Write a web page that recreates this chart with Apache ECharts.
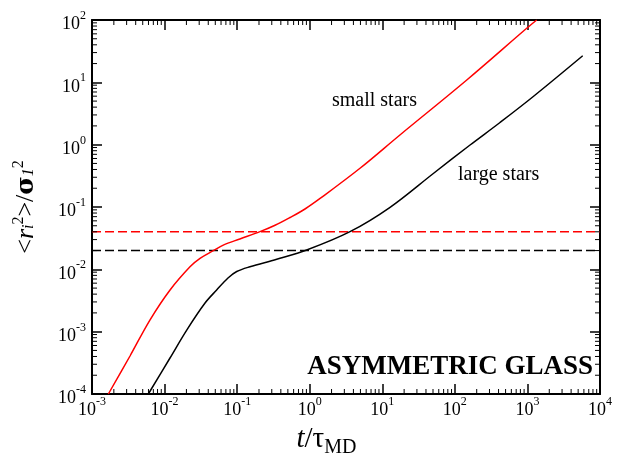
<!DOCTYPE html>
<html>
<head>
<meta charset="utf-8">
<script src="https://cdn.jsdelivr.net/npm/echarts@6/dist/echarts.min.js"></script>
<style>
  html, body { margin: 0; padding: 0; background: #fff; }
  #chart { width: 625px; height: 455px; }
</style>
</head>
<body>
<div id="chart"></div>
<script>
// Mean-square displacement of small and large stars versus time, log-log.
const smallStarsT   = [0.00168, 0.00334, 0.00631, 0.0119, 0.0224, 0.0308, 0.0469, 0.0644, 0.109, 0.2065, 0.333, 0.535, 0.861, 1.39, 4.93, 17.5, 146, 977, 1343];
const smallStarsMSD = [1.0e-4, 4.07e-4, 1.55e-3, 4.67e-3, 0.0110, 0.0150, 0.0199, 0.0245, 0.0307, 0.0402, 0.0509, 0.0678, 0.0929, 0.137, 0.418, 1.43, 10.9, 73.6, 100];
const largeStarsT   = [0.00597, 0.01188, 0.0202, 0.0361, 0.0522, 0.0748, 0.0987, 0.150, 0.351, 0.908, 3.59, 12.8, 50.5, 162, 419, 1205, 5780];
const largeStarsMSD = [1.0e-4, 3.78e-4, 1.06e-3, 2.88e-3, 4.66e-3, 7.26e-3, 9.23e-3, 0.0110, 0.0145, 0.0204, 0.0402, 0.0989, 0.345, 0.988, 2.27, 5.93, 26.7];
const plateauSmall = 0.04;
const plateauLarge = 0.02;
const xTickExponents = [-3, -2, -1, 0, 1, 2, 3, 4];
const yTickExponents = [-4, -3, -2, -1, 0, 1, 2];

const xMin = Math.pow(10, xTickExponents[0]);
const xMax = Math.pow(10, xTickExponents[xTickExponents.length - 1]);
const yMin = Math.pow(10, yTickExponents[0]);
const yMax = Math.pow(10, yTickExponents[yTickExponents.length - 1]);

const FONT = 'Liberation Serif, Times New Roman, serif';

function zip(a, b) { return a.map((v, i) => [v, b[i]]); }

// Intermediate (2..9 x 10^k) tick positions within each decade
function minorValues(exps) {
  const out = [];
  for (let i = 0; i < exps.length - 1; i++) {
    for (let m = 2; m <= 9; m++) out.push(m * Math.pow(10, exps[i]));
  }
  return out;
}
const xMinor = minorValues(xTickExponents);
const yMinor = minorValues(yTickExponents);

const powerLabel = {
  formatter: function (v) {
    const e = Math.round(Math.log10(v));
    return '{b|10}{s|' + e + '}';
  },
  rich: {
    b: { fontFamily: FONT, fontSize: 18, lineHeight: 18, padding: [9, 0, 0, 0], color: '#000' },
    s: { fontFamily: FONT, fontSize: 12, lineHeight: 20, verticalAlign: 'top', color: '#000' }
  }
};

const frameLine = { show: true, onZero: false, lineStyle: { color: '#000', width: 2 } };
const majorTick = { show: true, inside: true, length: 10, lineStyle: { color: '#000', width: 1.5 } };

function logAxis(min, max, extra) {
  return Object.assign({
    type: 'log', logBase: 10, min: min, max: max, interval: 1,
    axisLine: frameLine, axisTick: majorTick,
    splitLine: { show: false }, minorTick: { show: false }
  }, extra);
}

const MINOR_LEN = 5;

const chart = echarts.init(document.getElementById('chart'), null, { renderer: 'canvas' });
chart.setOption({
  backgroundColor: '#fff',
  animation: false,
  grid: { left: 92, right: 25, top: 20, bottom: 61, containLabel: false, outerBoundsMode: 'none' },
  xAxis: [
    logAxis(xMin, xMax, {
      position: 'bottom',
      axisLabel: Object.assign({ show: true, margin: 2 }, powerLabel),
      name: '{t|t}{n|/τ}{sub|MD}',
      nameLocation: 'middle',
      nameGap: 24,
      nameTextStyle: {
        padding: [0, 39, 0, 0],
        rich: {
          t: { fontFamily: FONT, fontStyle: 'italic', fontSize: 29, lineHeight: 28, padding: [0, 0, 10, 0], color: '#000' },
          n: { fontFamily: FONT, fontSize: 29, lineHeight: 28, padding: [0, 0, 10, 0], color: '#000' },
          sub: { fontFamily: FONT, fontSize: 20, lineHeight: 18, verticalAlign: 'bottom', color: '#000' }
        }
      }
    }),
    logAxis(xMin, xMax, { position: 'top', axisLabel: { show: false } })
  ],
  yAxis: [
    logAxis(yMin, yMax, {
      position: 'left',
      axisLabel: Object.assign({ show: true, margin: 6 }, powerLabel),
      name: '{m|<}{mi|r}{sub|i}{sup|2}{m|>/}{sg|σ}{sub|1}{sup|2}',
      nameLocation: 'middle',
      nameRotate: 90,
      nameGap: 37,
      nameTextStyle: {
        rich: {
          m: { fontFamily: FONT, fontSize: 26, lineHeight: 26, padding: [12, 0, 8, 0], color: '#000' },
          mi: { fontFamily: FONT, fontStyle: 'italic', fontSize: 26, lineHeight: 26, padding: [12, 0, 8, 0], color: '#000' },
          sg: { fontFamily: 'DejaVu Serif, serif', fontWeight: 'bold', fontSize: 25, lineHeight: 26, padding: [12, 0, 8, 0], color: '#000' },
          sub: { fontFamily: FONT, fontStyle: 'italic', fontSize: 16, lineHeight: 18, verticalAlign: 'bottom', color: '#000' },
          sup: { fontFamily: FONT, fontSize: 16, lineHeight: 24, verticalAlign: 'top', color: '#000' }
        }
      }
    }),
    logAxis(yMin, yMax, { position: 'right', axisLabel: { show: false } })
  ],
  graphic: [
    { type: 'text', x: 332, y: 101, silent: true,
      style: { text: 'small stars', font: '20px ' + FONT, fill: '#000', textAlign: 'left', textVerticalAlign: 'middle' } },
    { type: 'text', x: 458, y: 175, silent: true,
      style: { text: 'large stars', font: '20px ' + FONT, fill: '#000', textAlign: 'left', textVerticalAlign: 'middle' } },
    { type: 'text', x: 593, y: 367, silent: true,
      style: { text: 'ASYMMETRIC GLASS', font: 'bold 27px ' + FONT, fill: '#000', textAlign: 'right', textVerticalAlign: 'middle' } }
  ],
  series: [
    {
      name: 'minor x ticks', type: 'custom', silent: true, clip: false, z: 5,
      data: xMinor.map(v => [v, yMin]),
      renderItem: function (params, api) {
        const v = api.value(0);
        const b = api.coord([v, yMin]);
        const t = api.coord([v, yMax]);
        const st = { stroke: '#000', lineWidth: 1 };
        return { type: 'group', children: [
          { type: 'line', shape: { x1: b[0], y1: b[1], x2: b[0], y2: b[1] - MINOR_LEN }, style: st },
          { type: 'line', shape: { x1: t[0], y1: t[1], x2: t[0], y2: t[1] + MINOR_LEN }, style: st }
        ] };
      }
    },
    {
      name: 'minor y ticks', type: 'custom', silent: true, clip: false, z: 5,
      data: yMinor.map(v => [xMin, v]),
      renderItem: function (params, api) {
        const v = api.value(1);
        const l = api.coord([xMin, v]);
        const r = api.coord([xMax, v]);
        const st = { stroke: '#000', lineWidth: 1 };
        return { type: 'group', children: [
          { type: 'line', shape: { x1: l[0], y1: l[1], x2: l[0] + MINOR_LEN, y2: l[1] }, style: st },
          { type: 'line', shape: { x1: r[0], y1: r[1], x2: r[0] - MINOR_LEN, y2: r[1] }, style: st }
        ] };
      }
    },
    {
      name: 'plateau small', type: 'line', symbol: 'none', silent: true,
      data: [[xMin, plateauSmall], [xMax, plateauSmall]],
      lineStyle: { color: '#ff0000', width: 1.5, type: [9, 4] }
    },
    {
      name: 'plateau large', type: 'line', symbol: 'none', silent: true,
      data: [[xMin, plateauLarge], [xMax, plateauLarge]],
      lineStyle: { color: '#000', width: 1.5, type: [9, 4] }
    },
    {
      name: 'small stars', type: 'line', symbol: 'none', smooth: 0.35, silent: true,
      data: zip(smallStarsT, smallStarsMSD),
      lineStyle: { color: '#ff0000', width: 1.5 }
    },
    {
      name: 'large stars', type: 'line', symbol: 'none', smooth: 0.35, silent: true,
      data: zip(largeStarsT, largeStarsMSD),
      lineStyle: { color: '#000', width: 1.5 }
    }
  ]
});
</script>
</body>
</html>
